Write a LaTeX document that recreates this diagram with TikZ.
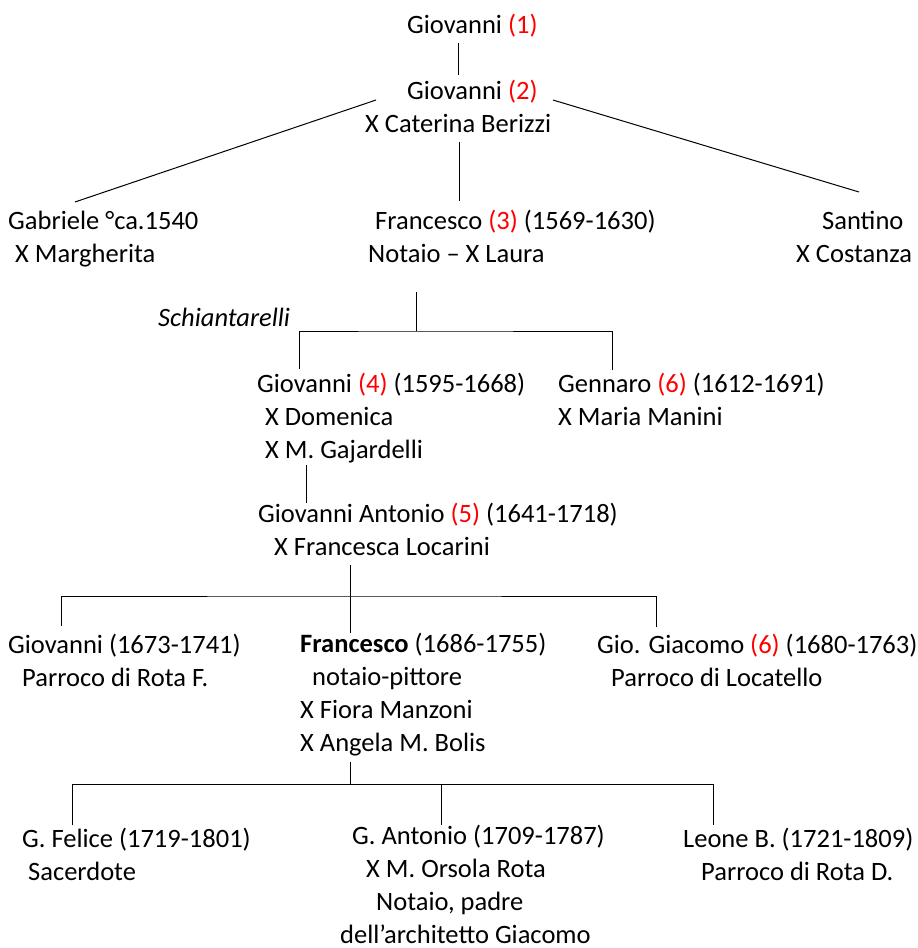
\documentclass[tikz,border=0pt]{standalone}
\usepackage{fontspec}
\setmainfont{Carlito}
\usepackage{xcolor}
\newcommand{\rn}[1]{\textcolor{red}{(#1)}}
\tikzset{person/.style={anchor=base west, align=left, inner sep=0pt, font=\fontsize{26.5}{32.8}\selectfont},
  link/.style={line width=1pt}}

\begin{document}
\begin{tikzpicture}[x=1pt, y=-1pt]
    \useasboundingbox (0,0) rectangle (918,948);

    \node[person] (a) at (407, 33) {Giovanni \rn{1}};
    \node[person] (b) at (365, 132) {\hspace*{42pt}Giovanni \rn{2}\\X Caterina Berizzi};
    \node[person] (c) at (8, 262) {Gabriele °ca.1540\\\hspace*{7pt}X Margherita};
    \node[person] (d) at (368, 262) {\hspace*{7pt}Francesco \rn{3} (1569-1630)\\Notaio – X Laura};
    \node[person] (e) at (796, 262) {\hspace*{26pt}Santino\\X Costanza};
    \node[person] (s) at (158, 326) {\itshape Schiantarelli};
    \node[person] (g) at (257, 458) {Giovanni \rn{4} (1595-1668)\\\hspace*{8pt}X Domenica\\\hspace*{8pt}X M. Gajardelli};
    \node[person] (h) at (558, 425) {Gennaro \rn{6} (1612-1691)\\X Maria Manini};
    \node[person] (i) at (258, 555) {Giovanni Antonio \rn{5} (1641-1718)\\\hspace*{16pt}X Francesca Locarini};
    \node[person] (j) at (8, 686) {Giovanni (1673-1741)\\\hspace*{14pt}Parroco di Rota F.};
    \node[person] (k) at (300, 751) {\textbf{Francesco} (1686-1755)\\\hspace*{12pt}notaio-pittore\\X Fiora Manzoni\\X Angela M. Bolis};
    \node[person] (l) at (597, 686) {Gio. Giacomo \rn{6} (1680-1763)\\\hspace*{14pt}Parroco di Locatello};
    \node[person] (m) at (22, 880) {G. Felice (1719-1801)\\\hspace*{6pt}Sacerdote};
    \node[person] (n) at (340, 943) {\hspace*{12pt}G. Antonio (1709-1787)\\\hspace*{26pt}X M. Orsola Rota\\\hspace*{36pt}Notaio, padre\\dell’architetto Giacomo};
    \node[person] (o) at (683, 880) {Leone B. (1721-1809)\\\hspace*{18pt}Parroco di Rota D.};

    \coordinate (p) at (416, 331);
    \coordinate (q) at (350, 596);
    \coordinate (r) at (350, 784);

    \draw [link] ([shift={(51,10)}]a.base west) to ([shift={(93,-57)}]b.base west);
    \draw [link] ([shift={(11,-32)}]b.base west) to ([shift={(67,-60)}]c.base west);
    \draw [link] ([shift={(188,-32)}]b.base west) to ([shift={(63,-70)}]e.base west);
    \draw [link] ([shift={(94,10)}]b.base west) to ([shift={(91,-61)}]d.base west);
    \draw [link] ([shift={(48,30)}]d.base west) to (p);
    \draw [link] ([shift={(42,-89)}]g.base west) |- (p) -| ([shift={(54,-55)}]h.base west);
    \draw [link] ([shift={(49,7)}]g.base west) to ([shift={(48,-52)}]i.base west);
    \draw [link] ([shift={(92,10)}]i.base west) to ([shift={(50,-118)}]k.base west);
    \draw [link] ([shift={(53,-60)}]j.base west) |- (q) -| ([shift={(59,-59)}]l.base west);
    \draw [link] ([shift={(50,11)}]k.base west) to (r);
    \draw [link] ([shift={(50,-55)}]m.base west) |- (r) -| ([shift={(30,-55)}]o.base west);
    \draw [link] (r) -| ([shift={(101,-118)}]n.base west);

\end{tikzpicture}
\end{document}
